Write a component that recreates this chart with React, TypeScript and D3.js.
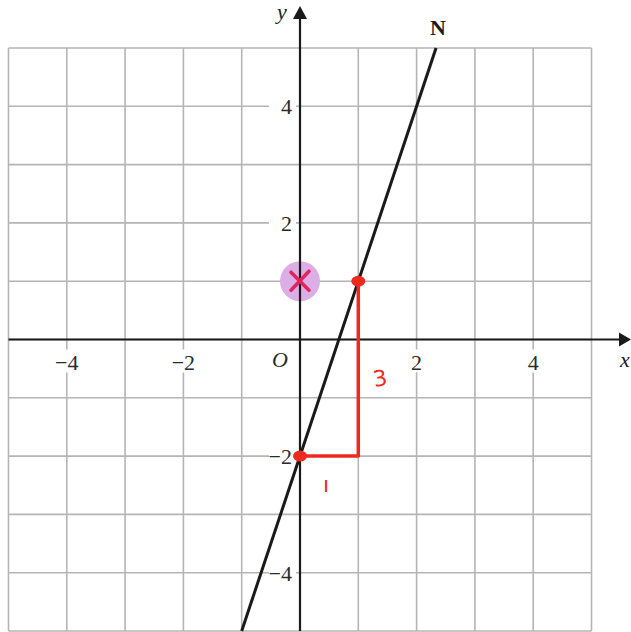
import React from 'react';
import * as d3 from 'd3';

const gridValues = [-5, -4, -3, -2, -1, 0, 1, 2, 3, 4, 5];
const xTickLabels = [-4, -2, 2, 4];
const yTickLabels = [-4, -2, 2, 4];
const lineN = [{ x: -1, y: -5 }, { x: 7 / 3, y: 5 }];
const riseRun = [{ x: 0, y: -2 }, { x: 1, y: -2 }, { x: 1, y: 1 }];
const redPoints = [{ x: 0, y: -2 }, { x: 1, y: 1 }];
const markedPoint = { x: 0, y: 1 };

const W = 631;
const H = 632;

const x = d3.scaleLinear().domain([-5, 5]).range([8.5, 591.5]);
const y = d3.scaleLinear().domain([-5, 5]).range([631, 48]);

const serif = '"Liberation Serif", "DejaVu Serif", serif';
const minus = (v: number) => (v < 0 ? '\u2212' + Math.abs(v) : String(v));

export default function App() {
  const line = d3.line<{ x: number; y: number }>().x(d => x(d.x)).y(d => y(d.y));
  const x0 = x(0);
  const y0 = y(0);
  const mx = x(markedPoint.x);
  const my = y(markedPoint.y);

  return (
    <svg width={W} height={H} style={{ position: 'absolute', left: 0, top: 0, background: '#fff' }}>
      {/* grid */}
      <g stroke="#b5b5b5" strokeWidth={1.6}>
        {gridValues.map(v => (
          <line key={'v' + v} x1={x(v)} x2={x(v)} y1={y(5)} y2={y(-5)} />
        ))}
        {gridValues.map(v => (
          <line key={'h' + v} x1={x(-5)} x2={x(5)} y1={y(v)} y2={y(v)} />
        ))}
      </g>

      {/* tick labels with white boxes */}
      <g fontFamily={serif} fontSize={22} fill="#2a2a2a">
        {xTickLabels.map(v => (
          <g key={'xt' + v}>
            <rect x={x(v) - 14} y={y0 + 10} width={28} height={23} fill="#fff" />
            <text x={x(v)} y={y0 + 30} textAnchor="middle">{minus(v)}</text>
          </g>
        ))}
        {yTickLabels.map(v => (
          <g key={'yt' + v}>
            <rect x={x0 - 31} y={y(v) - 11} width={27} height={23} fill="#fff" />
            <text x={x0 - 8} y={y(v) + 8} textAnchor="end">{minus(v)}</text>
          </g>
        ))}
        <text x={x0 - 12} y={y0 + 27} textAnchor="end" fontStyle="italic">O</text>
      </g>

      {/* marked point highlight */}
      <circle cx={mx} cy={my} r={20} fill="#dcaee6" />

      {/* axes */}
      <g stroke="#1a1a1a" strokeWidth={2.2}>
        <line x1={x(-5)} x2={622} y1={y0} y2={y0} />
        <line x1={x0} x2={x0} y1={y(-5)} y2={16} />
      </g>
      <path d={`M631,${y0} L619,${y0 - 7} L619,${y0 + 7} Z`} fill="#1a1a1a" />
      <path d={`M${x0},6 L${x0 - 7},19 L${x0 + 7},19 Z`} fill="#1a1a1a" />
      <text x={620} y={y0 + 27} fontFamily={serif} fontStyle="italic" fontSize={22} fill="#222">x</text>
      <text x={x0 - 18} y={19} fontFamily={serif} fontStyle="italic" fontSize={22} fill="#222" textAnchor="middle">y</text>

      {/* line N */}
      <path d={line(lineN) || ''} stroke="#1a1a1a" strokeWidth={3} fill="none" />
      <text x={x(7 / 3) + 2} y={35} fontFamily={serif} fontWeight="bold" fontSize={22} fill="#1a1a1a" textAnchor="middle">N</text>

      {/* red annotations */}
      <path d={line(riseRun) || ''} stroke="#ee2a1e" strokeWidth={3.5} fill="none" strokeLinejoin="round" />
      {redPoints.map((p, i) => (
        <ellipse key={i} cx={x(p.x)} cy={y(p.y)} rx={7} ry={5.5} fill="#ee2a1e" />
      ))}
      <text x={380} y={386} fontFamily='"DejaVu Sans", sans-serif' fontSize={22} fill="#ee2a1e" textAnchor="middle" transform="rotate(-10 380 378)">3</text>
      <text x={326} y={492} fontFamily='"DejaVu Sans", sans-serif' fontSize={22} fill="#ee2a1e" textAnchor="middle">ı</text>

      {/* x mark */}
      <g stroke="#e0245e" strokeWidth={3.5} strokeLinecap="round">
        <line x1={mx - 9} y1={my - 9} x2={mx + 9} y2={my + 9} />
        <line x1={mx + 9} y1={my - 10} x2={mx - 9} y2={my + 9} />
      </g>
    </svg>
  );
}
